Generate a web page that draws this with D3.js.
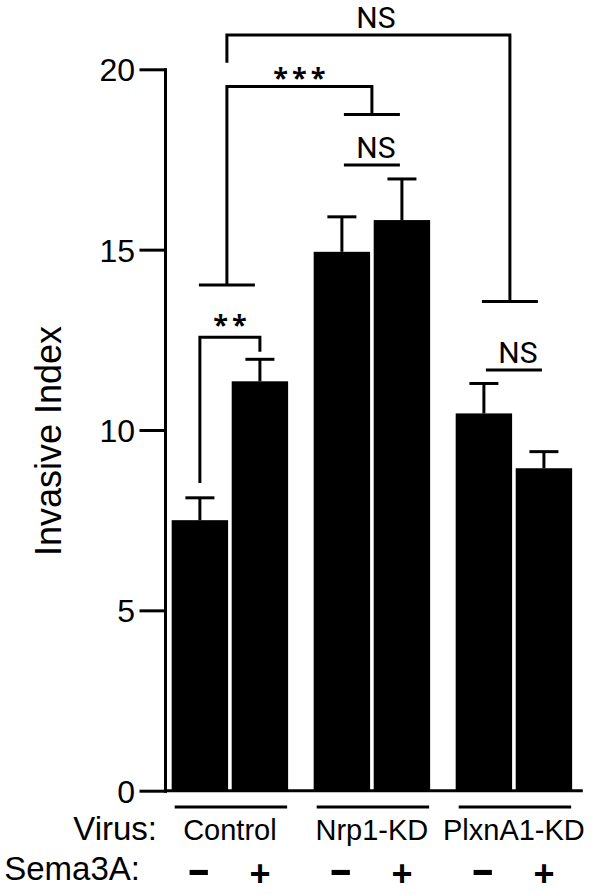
<!DOCTYPE html>
<html><head><meta charset="utf-8">
<script src="https://cdn.jsdelivr.net/npm/d3@7"></script>
<style>body{margin:0;background:#fff} svg{display:block}</style>
</head><body><svg id="c" width="597" height="894"></svg>
<script>
// ---- data ----
const groups = ["Control", "Nrp1-KD", "PlxnA1-KD"];
const sema = ["-", "+"];
const meanMinus = [7.50, 14.94, 10.46];
const meanPlus  = [11.35, 15.82, 8.94];
const semMinus  = [0.62, 0.97, 0.83];
const semPlus   = [0.61, 1.14, 0.46];
const yTicks = [0, 5, 10, 15, 20];
const yLabel = "Invasive Index";
const rowLabels = ["Virus:", "Sema3A:"];
// significance annotations (y in data units)
const pairBracket = {group: 0, yLeft: 8.53, yTop: 12.57, yRight: 12.17, label: "**"};
const starBracket = {from: 0, to: 1, yFromT: 14.02, yTop: 19.52, yToT: 18.75, label: "***"};
const nsBracket   = {from: 0, to: 2, yStart: 20.18, yTop: 20.95, yToT: 13.56, label: "NS"};
const nsLines = [{group: 1, y: 17.35, label: "NS"}, {group: 2, y: 11.66, label: "NS"}];

const rows = [];
groups.forEach((g, i) => {
  rows.push({group: g, s: "-", mean: meanMinus[i], sem: semMinus[i]});
  rows.push({group: g, s: "+", mean: meanPlus[i], sem: semPlus[i]});
});

const FONT = "'Liberation Sans', Arial, sans-serif";
const FONT2 = "'Open Sans', 'Noto Sans', sans-serif";
const FONT3 = "Roboto, 'Liberation Sans', sans-serif";
const svg = d3.select("#c");

const y = d3.scaleLinear().domain([0, 20]).range([790.7, 69.3]);
const x = d3.scaleBand().domain(groups).range([165, 578.8]).paddingInner(0.18).paddingOuter(0.047);
const xi = d3.scaleBand().domain(sema).range([0, x.bandwidth()]).paddingInner(0.06).paddingOuter(0);
const gc = g => x(groups[g]) + x.bandwidth() / 2;
const bc = (g, s) => x(groups[g]) + xi(s) + xi.bandwidth() / 2;

// bars
svg.append("g").selectAll("rect").data(rows).join("rect")
  .attr("x", d => x(d.group) + xi(d.s))
  .attr("width", xi.bandwidth())
  .attr("y", d => y(d.mean))
  .attr("height", d => y(0) - y(d.mean))
  .attr("fill", "#000");

// error bars
const eb = svg.append("g").attr("stroke", "#000").attr("stroke-width", 3);
rows.forEach(d => {
  const cx = x(d.group) + xi(d.s) + xi.bandwidth() / 2;
  eb.append("line").attr("x1", cx).attr("x2", cx).attr("y1", y(d.mean)).attr("y2", y(d.mean + d.sem));
  eb.append("line").attr("x1", cx - 14.5).attr("x2", cx + 14.5).attr("y1", y(d.mean + d.sem)).attr("y2", y(d.mean + d.sem));
});

// y axis
const ya = svg.append("g").attr("transform", "translate(165,0)")
  .call(d3.axisLeft(y).tickValues(yTicks).tickSize(24).tickPadding(6).tickSizeOuter(0));
ya.selectAll("path, line").attr("stroke", "#000").attr("stroke-width", 3).attr("stroke-linecap", "square");
ya.selectAll("text").attr("font-family", FONT).attr("font-size", 32).attr("fill", "#000").attr("dy", "0.36em");

// x axis baseline
svg.append("line").attr("x1", 165).attr("x2", x.range()[1] + 4).attr("y1", y(0)).attr("y2", y(0))
  .attr("stroke", "#000").attr("stroke-width", 3);

// y label
svg.append("text").attr("transform", "translate(61," + ((y(0) + y(20)) / 2 + 11) + ") rotate(-90)")
  .attr("text-anchor", "middle").attr("font-family", FONT).attr("font-size", 36).attr("fill", "#000").text(yLabel);

// group underline + labels
const lab = svg.append("g");
groups.forEach((g, i) => {
  lab.append("line").attr("x1", x(g) + 3).attr("x2", x(g) + x.bandwidth() - 1).attr("y1", 807).attr("y2", 807)
    .attr("stroke", "#000").attr("stroke-width", 3);
  lab.append("text").attr("x", gc(i)).attr("y", 840).attr("text-anchor", "middle")
    .attr("font-family", FONT).attr("font-size", 29).attr("fill", "#000").text(g);
  sema.forEach(s => {
    const t = lab.append("text").attr("text-anchor", "middle").attr("font-family", FONT)
      .attr("font-weight", "bold").attr("fill", "#000").text(s);
    if (s === "-") t.attr("font-size", 38).attr("transform", "translate(" + (bc(i, s) - 1) + ",884) scale(1.9,1.1)");
    else t.attr("font-size", 36).attr("transform", "translate(" + bc(i, s) + ",886)");
  });
});
lab.append("text").attr("x", 157).attr("y", 840).attr("text-anchor", "end")
  .attr("font-family", FONT).attr("font-size", 33).attr("fill", "#000").text(rowLabels[0]);
lab.append("text").attr("x", 140).attr("y", 880).attr("text-anchor", "end")
  .attr("font-family", FONT).attr("font-size", 33).attr("fill", "#000").text(rowLabels[1]);

// annotations
const an = svg.append("g");
const path = pts => an.append("path").attr("d", d3.line()(pts)).attr("fill", "none")
  .attr("stroke", "#000").attr("stroke-width", 3).attr("stroke-linejoin", "miter");
const stars = (txt, cx, top) => an.append("text").attr("x", cx).attr("y", top + 20)
  .attr("text-anchor", "middle").attr("font-family", FONT2).attr("font-size", 27).attr("font-weight", 700)
  .attr("letter-spacing", 4).attr("dx", 2).attr("fill", "#000").text(txt);
const ns = (cx, base) => an.append("text").attr("x", cx).attr("y", base).attr("text-anchor", "middle")
  .attr("font-family", FONT3).attr("font-size", 30).attr("font-weight", 400).attr("fill", "#000").text("NS");

// ** bracket
{
  const b = pairBracket, xl = bc(b.group, "-"), xr = bc(b.group, "+");
  path([[xl, y(b.yLeft)], [xl, y(b.yTop)], [xr, y(b.yTop)], [xr, y(b.yRight)]]);
  stars(b.label, (xl + xr) / 2, y(b.yTop) - 23);
}
// *** bracket
{
  const b = starBracket, xl = gc(b.from) - 3, xr = gc(b.to);
  path([[xl - 28, y(b.yFromT)], [xl + 28, y(b.yFromT)]]);
  path([[xl, y(b.yFromT)], [xl, y(b.yTop)], [xr, y(b.yTop)], [xr, y(b.yToT)]]);
  path([[xr - 28, y(b.yToT)], [xr + 28, y(b.yToT)]]);
  stars(b.label, (xl + xr) / 2, y(b.yTop) - 20);
}
// top NS bracket
{
  const b = nsBracket, xl = gc(b.from) - 3, xr = gc(b.to) - 4;
  path([[xl, y(b.yStart)], [xl, y(b.yTop)], [xr, y(b.yTop)], [xr, y(b.yToT)]]);
  path([[xr - 28, y(b.yToT)], [xr + 28, y(b.yToT)]]);
  ns(gc(1) + 4, y(b.yTop) - 7);
}
// NS lines
nsLines.forEach(n => {
  const c = gc(n.group);
  path([[c - 28, y(n.y)], [c + 28, y(n.y)]]);
  ns(c + 4, y(n.y) - 7);
});
</script></body></html>
